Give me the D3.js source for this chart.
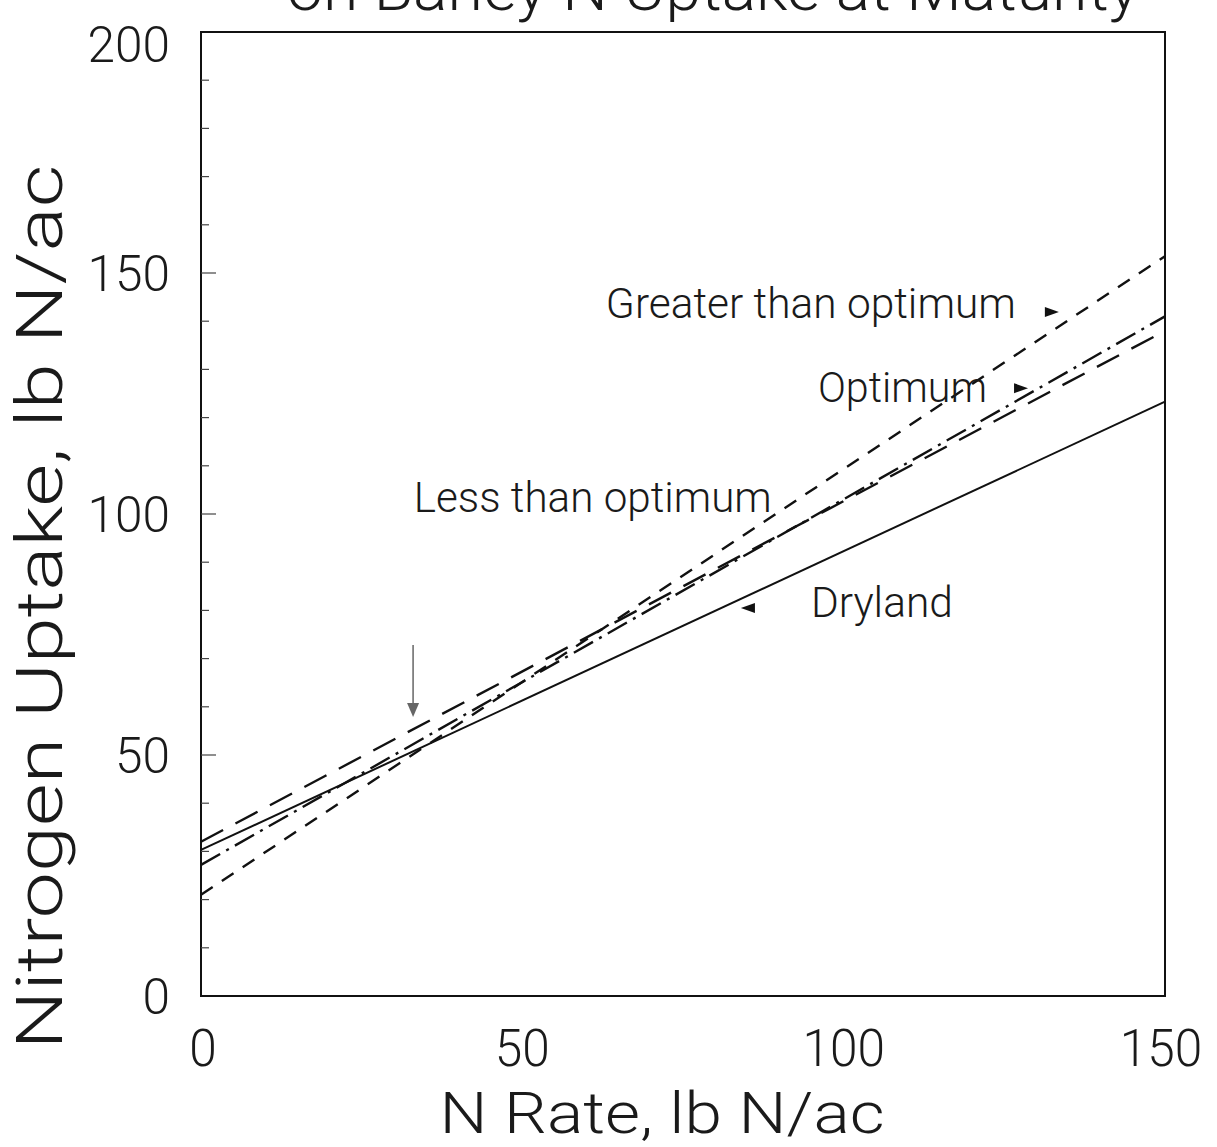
<!DOCTYPE html>
<html>
<head>
<meta charset="utf-8">
<script src="https://cdn.jsdelivr.net/npm/d3@7"></script>
<style>
  html, body { margin: 0; padding: 0; background: #fff; }
  svg { display: block; }
  text { font-family: Roboto, Lato, "Liberation Sans", Arial, sans-serif; font-weight: 300; fill: #1a1a1a; }
</style>
</head>
<body>
<script>
// ---- data ----
const nRates = [0, 150];
const seriesNames = ["Greater than optimum", "Optimum", "Less than optimum", "Dryland"];
const greaterThanOptimum = [21, 153.5];
const optimum = [27.2, 141];
const lessThanOptimum = [32, 138];
const dryland = [30.3, 123.3];
const yTicks = [0, 50, 100, 150, 200];
const xTicks = [0, 50, 100, 150];
const yMinorTicks = d3.range(10, 200, 10);
const titleText = "on Barley N Uptake at Maturity";
const xTitle = "N Rate, lb N/ac";
const yTitle = "Nitrogen Uptake, lb N/ac";
// label anchor points in data units
const labelX = [63.0, 96.0, 33.1, 94.9];
const labelY = [140.7, 123.2, 100.4, 78.6];
// small pointer triangles: x, y, direction
const pointerX = [132.4, 127.6, 85.1];
const pointerY = [141.9, 126.1, 80.5];
const pointerDir = [1, 1, -1];
// gray downward arrow (x, from y, to y)
const downArrow = [33.0, 72.8, 57.9];

// ---- layout ----
const W = 1217, H = 1147;
const svg = d3.select("body").append("svg").attr("width", W).attr("height", H);
const x = d3.scaleLinear().domain([0, 150]).range([201, 1165]);
const y = d3.scaleLinear().domain([0, 200]).range([996, 32]);

const series = [
  { name: seriesNames[0], vals: greaterThanOptimum, dash: "14,11" },
  { name: seriesNames[1], vals: optimum, dash: "22,7,3,7" },
  { name: seriesNames[2], vals: lessThanOptimum, dash: "25,14" },
  { name: seriesNames[3], vals: dryland, dash: null }
];

// title (partially cut off at top, as in the reference)
svg.append("text")
  .attr("x", 713).attr("y", 10)
  .attr("text-anchor", "middle")
  .attr("font-size", 62)
  .attr("textLength", 852).attr("lengthAdjust", "spacingAndGlyphs")
  .text(titleText);

// frame
svg.append("rect")
  .attr("x", x(0)).attr("y", y(200))
  .attr("width", x(150) - x(0)).attr("height", y(0) - y(200))
  .attr("fill", "none").attr("stroke", "#111").attr("stroke-width", 2);

// left axis inner ticks
svg.append("g").selectAll("line").data(yMinorTicks).join("line")
  .attr("x1", x(0)).attr("x2", d => x(0) + (d % 50 === 0 ? 15 : 8))
  .attr("y1", d => y(d)).attr("y2", d => y(d))
  .attr("stroke", "#444").attr("stroke-width", 1.2);

// y tick labels
svg.append("g").selectAll("text").data(yTicks).join("text")
  .attr("x", 170)
  .attr("y", d => Math.max(y(d), 44) + 18)
  .attr("text-anchor", "end")
  .attr("font-size", 50)
  .attr("textLength", d => String(d).length * 27.5)
  .attr("lengthAdjust", "spacingAndGlyphs")
  .text(d => d);

// x tick labels
svg.append("g").selectAll("text").data(xTicks).join("text")
  .attr("x", d => x(d) + (d === 0 ? 2 : (d === 150 ? -4 : 0)))
  .attr("y", 1066)
  .attr("text-anchor", "middle")
  .attr("font-size", 52)
  .attr("textLength", d => String(d).length * 27.5)
  .attr("lengthAdjust", "spacingAndGlyphs")
  .text(d => d);

// axis titles
svg.append("text")
  .attr("x", 662).attr("y", 1133)
  .attr("text-anchor", "middle")
  .attr("font-size", 58)
  .attr("textLength", 445).attr("lengthAdjust", "spacingAndGlyphs")
  .text(xTitle);

svg.append("text")
  .attr("transform", "translate(62,607) rotate(-90)")
  .attr("text-anchor", "middle")
  .attr("font-size", 64)
  .attr("textLength", 885).attr("lengthAdjust", "spacingAndGlyphs")
  .text(yTitle);

// lines
const line = d3.line().x((d, i) => x(nRates[i])).y(d => y(d));
svg.append("g").selectAll("path").data(series).join("path")
  .attr("d", d => line(d.vals))
  .attr("fill", "none")
  .attr("stroke", "#111")
  .attr("stroke-width", d => d.dash ? 2.4 : 2)
  .attr("stroke-dasharray", d => d.dash);

// series labels
const labelW = [410, 169, 358, 142];
svg.append("g").selectAll("text").data(seriesNames).join("text")
  .attr("x", (d, i) => x(labelX[i]))
  .attr("y", (d, i) => y(labelY[i]))
  .attr("font-size", 42)
  .attr("textLength", (d, i) => labelW[i])
  .attr("lengthAdjust", "spacingAndGlyphs")
  .text(d => d);

// pointer triangles
svg.append("g").selectAll("path").data(pointerX).join("path")
  .attr("d", (d, i) => {
    const cx = x(d), cy = y(pointerY[i]), s = pointerDir[i];
    return `M${cx - 7 * s},${cy - 5} L${cx + 7 * s},${cy} L${cx - 7 * s},${cy + 5} Z`;
  })
  .attr("fill", "#111");

// gray down arrow
const ax = x(downArrow[0]), ay1 = y(downArrow[1]), ay2 = y(downArrow[2]);
svg.append("line")
  .attr("x1", ax).attr("x2", ax).attr("y1", ay1).attr("y2", ay2 - 12)
  .attr("stroke", "#666").attr("stroke-width", 1.5);
svg.append("path")
  .attr("d", `M${ax - 6},${ay2 - 14} L${ax + 6},${ay2 - 14} L${ax},${ay2} Z`)
  .attr("fill", "#666");
</script>
</body>
</html>
